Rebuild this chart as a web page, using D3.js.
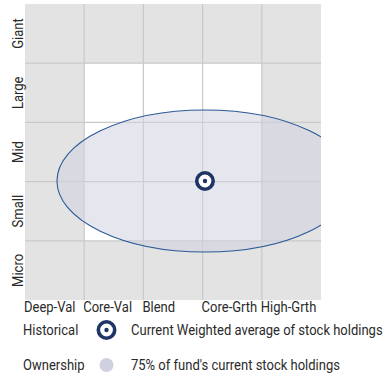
<!DOCTYPE html>
<html>
<head>
<meta charset="utf-8">
<script src="https://cdn.jsdelivr.net/npm/d3@7"></script>
<style>
  html, body { margin: 0; padding: 0; background: #fff; }
  svg { display: block; }
  text { font-family: "Roboto", "Liberation Sans", sans-serif; fill: #2a2a2a; font-size: 14px; }
</style>
</head>
<body>
<svg id="chart" width="383" height="379"></svg>
<script>
// Style box: value/growth columns and market-cap rows
const styles = ["Deep-Val", "Core-Val", "Blend", "Core-Grth", "High-Grth"];
const sizes = ["Micro", "Small", "Mid", "Large", "Giant"]; // bottom to top

// 1 = core region (white), 0 = outer region (grey); rows listed bottom to top
const coreCells = [
  [0, 0, 0, 0, 0],
  [0, 1, 1, 1, 0],
  [0, 1, 1, 1, 0],
  [0, 1, 1, 1, 0],
  [0, 0, 0, 0, 0]
];

// Weighted average position of holdings (style units, size units)
const centroid = [3.04, 2.01];
// Ownership zone: 75% of holdings, half-widths in style / size units
const zoneRadii = [2.5, 1.2];

// Legend entries
const legendRows = [
  { label: "Historical", desc: "Current Weighted average of stock holdings", kind: "centroid" },
  { label: "Ownership", desc: "75% of fund's current stock holdings", kind: "zone" }
];

const svg = d3.select("#chart");
const boxLeft = 25, boxTop = 4, boxSide = 296;
const squeeze = 0.93; // narrow lettering

const x = d3.scaleLinear().domain([0, styles.length]).range([boxLeft, boxLeft + boxSide]);
const y = d3.scaleLinear().domain([0, sizes.length]).range([boxTop + boxSide, boxTop]);

// cell backgrounds
const cells = [];
coreCells.forEach((row, r) => row.forEach((v, c) => cells.push({ r, c, v })));
svg.append("g").selectAll("rect").data(cells).join("rect")
  .attr("x", d => x(d.c))
  .attr("y", d => y(d.r + 1))
  .attr("width", d => x(d.c + 1) - x(d.c))
  .attr("height", d => y(d.r) - y(d.r + 1))
  .attr("fill", d => d.v ? "#ffffff" : "#e3e3e3");

// grid lines
const grid = svg.append("g").attr("stroke", "#c9c9c9").attr("stroke-width", 1.2);
d3.range(1, styles.length).forEach(i => {
  grid.append("line").attr("x1", x(i)).attr("x2", x(i)).attr("y1", y(0)).attr("y2", y(sizes.length));
});
d3.range(1, sizes.length).forEach(i => {
  grid.append("line").attr("x1", x(0)).attr("x2", x(styles.length)).attr("y1", y(i)).attr("y2", y(i));
});

// ownership zone, clipped to the box
svg.append("clipPath").attr("id", "box").append("rect")
  .attr("x", x(0)).attr("y", y(sizes.length))
  .attr("width", x(styles.length) - x(0)).attr("height", y(0) - y(sizes.length));

const zoneFill = "#d0d1e0";
svg.append("ellipse")
  .attr("clip-path", "url(#box)")
  .attr("cx", x(centroid[0]))
  .attr("cy", y(centroid[1]))
  .attr("rx", x(zoneRadii[0]) - x(0))
  .attr("ry", y(0) - y(zoneRadii[1]))
  .attr("fill", zoneFill)
  .attr("fill-opacity", 0.55)
  .attr("stroke", "#2b5a96")
  .attr("stroke-width", 1.1);

// centroid marker
function marker(g, cx, cy) {
  g.append("circle").attr("cx", cx).attr("cy", cy).attr("r", 8.2)
    .attr("fill", "#fff").attr("stroke", "#1f3566").attr("stroke-width", 3.6);
  g.append("circle").attr("cx", cx).attr("cy", cy).attr("r", 2.2).attr("fill", "#1f3566");
}
marker(svg.append("g"), x(centroid[0]), y(centroid[1]));

// size labels (rotated)
svg.append("g").selectAll("text").data(sizes).join("text")
  .attr("transform", (d, i) => `translate(23,${(y(i) + y(i + 1)) / 2}) rotate(-90) scale(${squeeze},1)`)
  .attr("text-anchor", "middle")
  .text(d => d);

// style labels
svg.append("g").selectAll("text").data(styles).join("text")
  .attr("transform", (d, i) => `translate(${x(i) - 1},311.5) scale(${squeeze},1)`)
  .text(d => d);

// legend
const leg = svg.append("g").selectAll("g").data(legendRows).join("g")
  .attr("transform", (d, i) => `translate(0,${330 + i * 35})`);
leg.append("text").attr("transform", `translate(23,5) scale(${squeeze},1)`).text(d => d.label);
leg.append("text").attr("transform", `translate(131,5) scale(${squeeze},1)`).text(d => d.desc);
leg.each(function(d) {
  const g = d3.select(this);
  if (d.kind === "centroid") marker(g, 106.5, 0);
  else g.append("circle").attr("cx", 106.5).attr("cy", 0).attr("r", 7).attr("fill", zoneFill);
});
</script>
</body>
</html>
